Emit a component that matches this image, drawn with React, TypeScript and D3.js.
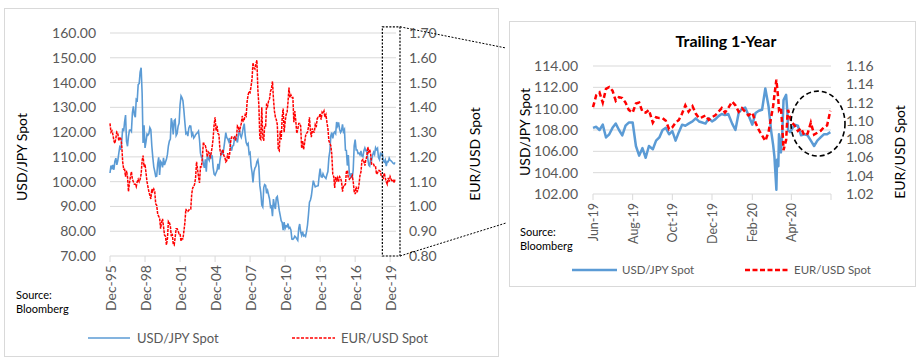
import * as d3 from 'd3';
import React from 'react';

// ---- long history (monthly, Dec-95 .. May-20) ----
const longStartYear = 1995;
const longStartMonth = 11; // December

const usdJpyMonthly = [
  103.5,
  106.5, 105.0, 106.8, 104.8, 108.2, 109.5, 106.8, 108.5, 111.4, 114.0, 113.4, 116.0,
  121.5, 120.3, 124.0, 126.9, 116.2, 114.3, 118.3, 120.8, 120.9, 120.3, 127.8, 130.4,
  127.0, 126.0, 133.2, 132.8, 139.2, 139.6, 144.2, 146.0, 135.8, 115.6, 122.8, 113.6,
  116.2, 119.2, 118.8, 119.4, 121.8, 121.0, 114.5, 109.8, 106.0, 104.2, 102.1, 102.2,
  107.2, 109.8, 102.7, 108.2, 107.6, 105.8, 109.6, 106.7, 107.9, 109.0, 111.0, 114.4,
  116.4, 117.2, 125.6, 123.6, 119.1, 124.6, 125.0, 118.6, 119.4, 122.4, 123.6, 131.0,
  134.6, 133.8, 132.7, 128.6, 123.9, 119.4, 119.8, 118.4, 121.6, 122.5, 122.4, 118.7,
  119.6, 117.6, 118.1, 119.0, 119.4, 119.8, 120.4, 117.0, 111.5, 109.9, 109.4, 107.2,
  105.6, 109.0, 104.0, 110.4, 109.4, 108.6, 111.6, 109.4, 110.6, 105.8, 103.0, 102.6,
  103.6, 104.6, 107.2, 104.9, 108.4, 110.8, 112.5, 110.9, 113.5, 116.5, 119.8, 117.8,
  117.2, 116.2, 117.6, 113.8, 112.5, 114.4, 114.6, 117.3, 118.0, 117.0, 115.8, 119.0,
  121.0, 118.6, 117.8, 119.5, 121.8, 123.4, 118.8, 115.8, 114.8, 115.4, 111.2, 111.7,
  106.4, 103.7, 99.7, 104.0, 105.5, 106.2, 108.0, 108.8, 106.0, 98.5, 95.5, 90.6,
  89.8, 97.6, 98.8, 98.5, 95.3, 96.4, 94.7, 93.0, 89.7, 90.1, 86.1, 93.0,
  90.3, 89.0, 93.5, 94.0, 91.2, 88.4, 86.4, 84.2, 83.5, 80.4, 83.7, 81.1,
  82.1, 81.8, 83.1, 81.2, 81.5, 80.5, 76.8, 76.7, 77.1, 78.0, 77.6, 76.9,
  76.3, 81.2, 82.9, 79.8, 78.4, 79.8, 78.1, 78.4, 77.9, 79.8, 82.5, 86.7,
  91.7, 92.6, 94.2, 97.4, 100.4, 99.1, 97.9, 98.1, 98.3, 98.4, 102.4, 105.3,
  102.0, 101.8, 103.2, 102.2, 101.8, 101.3, 102.8, 104.1, 109.7, 112.3, 118.6, 119.8,
  117.5, 119.6, 120.1, 119.4, 124.1, 122.5, 123.9, 121.2, 119.9, 120.6, 123.1, 120.2,
  121.0, 112.7, 112.6, 106.5, 110.7, 103.3, 102.1, 103.4, 101.4, 104.8, 114.5, 117.0,
  112.8, 112.8, 111.4, 111.5, 110.8, 112.4, 110.3, 110.0, 112.5, 113.6, 112.5, 112.7,
  109.2, 106.7, 106.3, 109.3, 108.8, 110.8, 111.9, 111.0, 113.7, 112.9, 113.5, 109.7,
  108.9, 111.4, 110.9, 111.4, 108.3, 107.9, 108.8, 106.3, 108.1, 108.0, 109.5, 108.6,
  108.4, 107.9, 107.5, 107.2, 107.8,
];

const eurUsdMonthly = [
  1.335,
  1.300, 1.305, 1.290, 1.265, 1.255, 1.275, 1.300, 1.295, 1.265, 1.280, 1.275, 1.250,
  1.180, 1.150, 1.150, 1.120, 1.145, 1.120, 1.060, 1.095, 1.120, 1.140, 1.110, 1.100,
  1.090, 1.090, 1.080, 1.100, 1.110, 1.100, 1.110, 1.130, 1.185, 1.205, 1.160, 1.170,
  1.135, 1.100, 1.080, 1.060, 1.045, 1.030, 1.070, 1.060, 1.070, 1.060, 1.010, 1.005,
  0.970, 0.960, 0.955, 0.910, 0.935, 0.950, 0.920, 0.885, 0.880, 0.845, 0.870, 0.940,
  0.935, 0.920, 0.880, 0.890, 0.850, 0.845, 0.875, 0.910, 0.910, 0.900, 0.890, 0.890,
  0.860, 0.870, 0.870, 0.900, 0.935, 0.990, 0.980, 0.980, 0.985, 0.990, 0.990, 1.050,
  1.075, 1.080, 1.090, 1.115, 1.180, 1.150, 1.120, 1.095, 1.160, 1.160, 1.200, 1.260,
  1.245, 1.245, 1.230, 1.200, 1.220, 1.215, 1.200, 1.215, 1.240, 1.275, 1.330, 1.360,
  1.305, 1.325, 1.295, 1.290, 1.230, 1.210, 1.215, 1.230, 1.205, 1.200, 1.180, 1.185,
  1.215, 1.190, 1.210, 1.260, 1.280, 1.280, 1.275, 1.280, 1.270, 1.280, 1.325, 1.320,
  1.300, 1.320, 1.335, 1.365, 1.345, 1.350, 1.370, 1.365, 1.425, 1.450, 1.465, 1.460,
  1.485, 1.515, 1.580, 1.560, 1.555, 1.575, 1.590, 1.470, 1.410, 1.275, 1.270, 1.400,
  1.280, 1.265, 1.325, 1.325, 1.415, 1.405, 1.425, 1.435, 1.465, 1.475, 1.505, 1.435,
  1.385, 1.360, 1.350, 1.330, 1.230, 1.225, 1.305, 1.270, 1.360, 1.395, 1.300, 1.340,
  1.370, 1.380, 1.420, 1.480, 1.440, 1.450, 1.440, 1.440, 1.340, 1.385, 1.345, 1.295,
  1.310, 1.335, 1.335, 1.325, 1.235, 1.265, 1.230, 1.255, 1.285, 1.295, 1.300, 1.320,
  1.360, 1.305, 1.280, 1.315, 1.300, 1.300, 1.330, 1.320, 1.355, 1.360, 1.360, 1.375,
  1.350, 1.380, 1.375, 1.385, 1.360, 1.370, 1.340, 1.315, 1.265, 1.255, 1.245, 1.210,
  1.130, 1.120, 1.075, 1.120, 1.100, 1.115, 1.100, 1.120, 1.115, 1.100, 1.060, 1.085,
  1.085, 1.090, 1.140, 1.145, 1.115, 1.110, 1.115, 1.115, 1.125, 1.100, 1.060, 1.050,
  1.080, 1.060, 1.065, 1.090, 1.125, 1.140, 1.185, 1.190, 1.180, 1.165, 1.190, 1.200,
  1.240, 1.220, 1.230, 1.210, 1.170, 1.170, 1.170, 1.160, 1.160, 1.130, 1.135, 1.145,
  1.145, 1.140, 1.120, 1.120, 1.115, 1.135, 1.115, 1.100, 1.090, 1.115, 1.100, 1.120,
  1.110, 1.100, 1.105, 1.095, 1.110,
];

const longTickLabels = ['Dec-95', 'Dec-98', 'Dec-01', 'Dec-04', 'Dec-07', 'Dec-10', 'Dec-13', 'Dec-16', 'Dec-19'];
const longLeftTicks = [70, 80, 90, 100, 110, 120, 130, 140, 150, 160];
const longRightTicks = [0.8, 0.9, 1.0, 1.1, 1.2, 1.3, 1.4, 1.5, 1.6, 1.7];

// ---- trailing 1-year ----
const trailingDates = [
  '2019-06-01', '2019-06-06', '2019-06-11', '2019-06-16', '2019-06-21', '2019-06-26',
  '2019-07-01', '2019-07-06', '2019-07-11', '2019-07-16', '2019-07-21', '2019-07-26',
  '2019-08-01', '2019-08-06', '2019-08-11', '2019-08-16', '2019-08-21', '2019-08-26',
  '2019-09-01', '2019-09-06', '2019-09-11', '2019-09-16', '2019-09-21', '2019-09-26',
  '2019-10-01', '2019-10-06', '2019-10-11', '2019-10-16', '2019-10-21', '2019-10-26',
  '2019-11-01', '2019-11-06', '2019-11-11', '2019-11-16', '2019-11-21', '2019-11-26',
  '2019-12-01', '2019-12-06', '2019-12-11', '2019-12-16', '2019-12-21', '2019-12-26',
  '2020-01-01', '2020-01-06', '2020-01-11', '2020-01-16', '2020-01-21', '2020-01-26',
  '2020-02-01', '2020-02-06', '2020-02-11', '2020-02-16', '2020-02-21', '2020-02-26',
  '2020-03-01', '2020-03-04', '2020-03-06', '2020-03-09', '2020-03-10', '2020-03-12', '2020-03-13',
  '2020-03-16', '2020-03-18', '2020-03-20', '2020-03-24', '2020-03-26', '2020-03-27', '2020-03-30',
  '2020-04-01', '2020-04-06', '2020-04-11', '2020-04-16', '2020-04-21', '2020-04-26',
  '2020-05-01', '2020-05-06', '2020-05-11', '2020-05-16', '2020-05-21', '2020-05-26',
  '2020-05-31',
];

const usdJpyTrailing = [
  108.2, 108.3, 108.0, 108.5, 107.3, 107.6,
  108.2, 108.6, 108.0, 107.5, 108.4, 108.7,
  108.7, 106.5, 105.6, 106.3, 105.4, 106.5,
  106.2, 107.0, 107.3, 108.0, 108.2, 107.6,
  107.9, 107.0, 107.8, 108.5, 108.4, 108.6,
  108.8, 109.1, 108.8, 108.7, 108.6, 109.1,
  108.8, 109.0, 109.3, 109.5, 109.4, 109.5,
  108.6, 108.0, 109.6, 110.0, 110.1, 109.4,
  108.5, 109.6, 109.8, 109.9, 111.9, 110.2,
  107.9, 106.6, 105.5, 102.4, 105.2, 104.6, 107.6,
  105.9, 107.6, 110.8, 111.3, 109.6, 108.0, 107.8,
  108.0, 108.5, 108.4, 107.5, 107.6, 107.5,
  107.0, 106.5, 107.0, 107.3, 107.6, 107.6,
  107.8,
];

const eurUsdTrailing = [
  1.115, 1.128, 1.131, 1.120, 1.135, 1.137,
  1.133, 1.122, 1.126, 1.125, 1.120, 1.112,
  1.109, 1.119, 1.120, 1.110, 1.109, 1.112,
  1.098, 1.104, 1.103, 1.103, 1.100, 1.091,
  1.093, 1.098, 1.101, 1.108, 1.117, 1.110,
  1.116, 1.108, 1.103, 1.104, 1.106, 1.101,
  1.104, 1.106, 1.110, 1.114, 1.109, 1.114,
  1.121, 1.117, 1.110, 1.114, 1.110, 1.106,
  1.109, 1.098, 1.090, 1.084, 1.078, 1.088,
  1.104, 1.116, 1.128, 1.145, 1.138, 1.123, 1.112,
  1.115, 1.095, 1.068, 1.079, 1.105, 1.112, 1.104,
  1.099, 1.095, 1.089, 1.092, 1.084, 1.086,
  1.098, 1.085, 1.087, 1.089, 1.093, 1.095,
  1.111,
];

const trailingTickLabels = ['Jun-19', 'Aug-19', 'Oct-19', 'Dec-19', 'Feb-20', 'Apr-20', ''];
const trailingLeftTicks = [102, 104, 106, 108, 110, 112, 114];
const trailingRightTicks = [1.02, 1.04, 1.06, 1.08, 1.1, 1.12, 1.14, 1.16];

const FONT = 'Lato, "Open Sans", sans-serif';
const GRID = '#d9d9d9';
const TICK_TEXT = '#595959';
const BLUE = '#5b9bd5';
const RED = '#ff0000';

const App: React.FC = () => {
  // ----- long chart scales -----
  const xL = d3
    .scaleTime()
    .domain([new Date(1995, 11, 1), new Date(2020, 5, 1)])
    .range([110, 396]);
  const yL = d3.scaleLinear().domain([70, 160]).range([256, 33]);
  const yLR = d3.scaleLinear().domain([0.8, 1.7]).range([256, 33]);
  const monthDate = (i: number) => new Date(longStartYear, longStartMonth + i, 1);

  const jpyLine = d3
    .line<number>()
    .x((d, i) => xL(monthDate(i)))
    .y(d => yL(d));
  const eurLine = d3
    .line<number>()
    .x((d, i) => xL(monthDate(i)))
    .y(d => yLR(d));

  // ----- trailing chart scales -----
  const xS = d3
    .scaleTime()
    .domain([new Date(2019, 5, 1), new Date(2020, 5, 1)])
    .range([593, 831]);
  const yS = d3.scaleLinear().domain([102, 114]).range([194, 66]);
  const ySR = d3.scaleLinear().domain([1.02, 1.16]).range([194, 66]);
  const parse = d3.timeParse('%Y-%m-%d');
  const tDates = trailingDates.map(s => parse(s) as Date);

  const jpyShort = d3
    .line<number>()
    .x((d, i) => xS(tDates[i]))
    .y(d => yS(d));
  const eurShort = d3
    .line<number>()
    .x((d, i) => xS(tDates[i]))
    .y(d => ySR(d));

  const longTicks = longTickLabels.map((l, k) => ({ label: l, x: xL(new Date(1995 + 3 * k, 11, 1)) }));
  const shortTicks = trailingTickLabels.map((l, k) => ({ label: l, x: xS(new Date(2019, 5 + 2 * k, 1)) }));

  // annotation box around the last year on the long chart
  const boxX1 = xL(new Date(2019, 3, 1));
  const boxX2 = xL.range()[1] + 4;
  const boxY1 = yL(162.5);
  const boxY2 = yL(70);

  return (
    <svg
      width={920}
      height={363}
      style={{ position: 'absolute', left: 0, top: 0, background: '#fff' }}
      fontFamily={FONT}
    >
      {/* ===== long chart ===== */}
      <rect x={4.5} y={8.5} width={494} height={348} fill="#fff" stroke={GRID} />
      {longLeftTicks.map(t => (
        <line key={'gl' + t} x1={110} x2={396} y1={yL(t)} y2={yL(t)} stroke={GRID} strokeWidth={1} />
      ))}
      {longTicks.map(t => (
        <line key={'tl' + t.label} x1={t.x} x2={t.x} y1={256} y2={262} stroke={GRID} />
      ))}
      {longLeftTicks.map(t => (
        <text key={'ll' + t} x={96} y={yL(t) + 5} textAnchor="end" fontSize={14} fill={TICK_TEXT}>
          {t.toFixed(2)}
        </text>
      ))}
      {longRightTicks.map(t => (
        <text key={'lr' + t} x={409} y={yLR(t) + 5} textAnchor="start" fontSize={14} fill={TICK_TEXT}>
          {t.toFixed(2)}
        </text>
      ))}
      {longTicks.map(t => (
        <text
          key={'lx' + t.label}
          transform={`translate(${t.x + 6},265) rotate(-90)`}
          textAnchor="end"
          fontSize={14}
          fill={TICK_TEXT}
        >
          {t.label}
        </text>
      ))}
      <path d={jpyLine(usdJpyMonthly) || ''} fill="none" stroke={BLUE} strokeWidth={1.6} />
      <path
        d={eurLine(eurUsdMonthly) || ''}
        fill="none"
        stroke={RED}
        strokeWidth={1.5}
        strokeDasharray="3,1"
      />
      <text transform="translate(27,157) rotate(-90)" textAnchor="middle" fontSize={14} fill="#000">
        USD/JPY Spot
      </text>
      <text transform="translate(480,154) rotate(-90)" textAnchor="middle" fontSize={14} fill="#000">
        EUR/USD Spot
      </text>
      <text x={16} y={299} fontSize={11} fill="#000">Source:</text>
      <text x={16} y={313} fontSize={11} fill="#000">Bloomberg</text>

      {/* legend */}
      <line x1={88} x2={130} y1={338} y2={338} stroke={BLUE} strokeWidth={1.3} />
      <text x={137} y={343} fontSize={13} fill={TICK_TEXT}>USD/JPY Spot</text>
      <line x1={292} x2={335} y1={338} y2={338} stroke={RED} strokeWidth={1.3} strokeDasharray="3,1.5" />
      <text x={341} y={343} fontSize={13} fill={TICK_TEXT}>EUR/USD Spot</text>

      {/* zoom annotation */}
      <rect
        x={boxX1}
        y={boxY1}
        width={boxX2 - boxX1}
        height={boxY2 - boxY1}
        fill="none"
        stroke="#000"
        strokeWidth={1.2}
        strokeDasharray="2,1.5"
      />
      <line x1={boxX2} y1={boxY1} x2={506} y2={48} stroke="#000" strokeWidth={1} strokeDasharray="2,1.5" />
      <line x1={boxX2} y1={boxY2} x2={506} y2={223} stroke="#000" strokeWidth={1} strokeDasharray="2,1.5" />

      {/* ===== trailing chart ===== */}
      <rect x={509.5} y={21.5} width={406} height={265} fill="#fff" stroke={GRID} />
      <text x={726} y={47} textAnchor="middle" fontSize={16} fontWeight="bold" fill="#000">
        Trailing 1-Year
      </text>
      {trailingLeftTicks.map(t => (
        <line key={'gs' + t} x1={593} x2={831} y1={yS(t)} y2={yS(t)} stroke={GRID} strokeWidth={1} />
      ))}
      {shortTicks.map(t => (
        <line key={'ts' + t.x} x1={t.x} x2={t.x} y1={194} y2={200} stroke={GRID} />
      ))}
      {trailingLeftTicks.map(t => (
        <text key={'sl' + t} x={578} y={yS(t) + 5} textAnchor="end" fontSize={14} fill={TICK_TEXT}>
          {t.toFixed(2)}
        </text>
      ))}
      {trailingRightTicks.map(t => (
        <text key={'sr' + t} x={846} y={ySR(t) + 5} textAnchor="start" fontSize={14} fill={TICK_TEXT}>
          {t.toFixed(2)}
        </text>
      ))}
      {shortTicks.map(t =>
        t.label ? (
          <text
            key={'sx' + t.label}
            transform={`translate(${t.x + 5},203) rotate(-90)`}
            textAnchor="end"
            fontSize={12.5}
            fill={TICK_TEXT}
          >
            {t.label}
          </text>
        ) : null
      )}
      <path d={jpyShort(usdJpyTrailing) || ''} fill="none" stroke={BLUE} strokeWidth={2.5} strokeLinejoin="round" />
      <path
        d={eurShort(eurUsdTrailing) || ''}
        fill="none"
        stroke={RED}
        strokeWidth={2.5}
        strokeDasharray="5,3"
      />
      <ellipse
        cx={xS(new Date(2020, 4, 12))}
        cy={yS(108.6)}
        rx={27}
        ry={32.5}
        fill="none"
        stroke="#000"
        strokeWidth={1.6}
        strokeDasharray="5,3"
      />
      <text transform="translate(530,132) rotate(-90)" textAnchor="middle" fontSize={14} fill="#000">
        USD/JPY Spot
      </text>
      <text transform="translate(905,152) rotate(-90)" textAnchor="middle" fontSize={14} fill="#000">
        EUR/USD Spot
      </text>
      <text x={520} y={236} fontSize={11} fill="#000">Source:</text>
      <text x={520} y={250} fontSize={11} fill="#000">Bloomberg</text>

      <line x1={572} x2={617} y1={270} y2={270} stroke={BLUE} strokeWidth={2.5} />
      <text x={622} y={274} fontSize={11.5} fill={TICK_TEXT}>USD/JPY Spot</text>
      <line x1={745} x2={790} y1={270} y2={270} stroke={RED} strokeWidth={2.5} strokeDasharray="5,2.5" />
      <text x={794} y={274} fontSize={11.5} fill={TICK_TEXT}>EUR/USD Spot</text>
    </svg>
  );
};

export default App;
